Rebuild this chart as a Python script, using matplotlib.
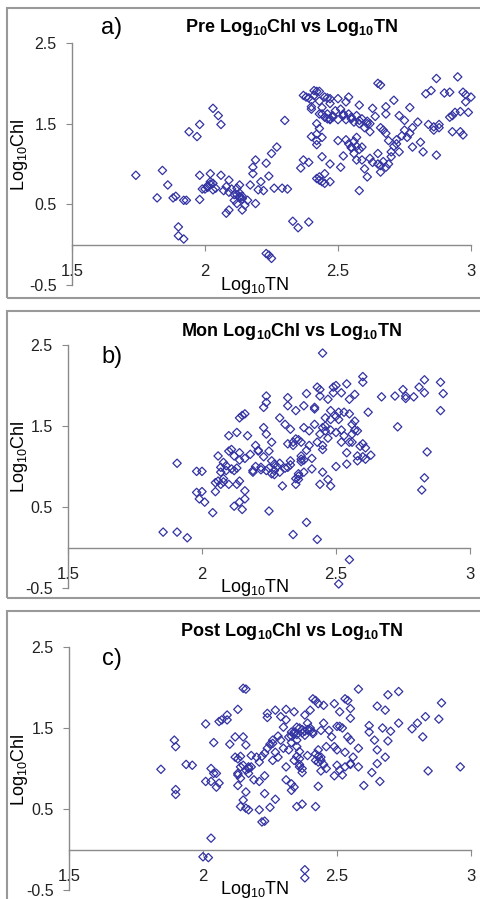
import matplotlib
matplotlib.use("Agg")
import matplotlib.pyplot as plt
from matplotlib.patches import Rectangle

plt.rcParams['font.family'] = ['Liberation Sans', 'DejaVu Sans']
plt.rcParams['mathtext.fontset'] = 'custom'
plt.rcParams['mathtext.rm'] = 'Liberation Sans'
plt.rcParams['mathtext.bf'] = 'Liberation Sans:bold'

# Dados (Log10TN, Log10Chl)
pre_tn = [1.74, 1.82, 1.84, 1.86, 1.88, 1.89, 1.90, 1.90, 1.92, 1.92, 1.93, 1.94, 1.97, 1.98, 1.98,
          1.98, 1.99, 2.00, 2.01, 2.02, 2.02, 2.03, 2.03, 2.03, 2.05, 2.06, 2.06, 2.07, 2.08, 2.09,
          2.09, 2.09, 2.11, 2.12, 2.13, 2.13, 2.13, 2.14, 2.14, 2.16, 2.17, 2.18, 2.18, 2.19, 2.19,
          2.20, 2.21, 2.22, 2.23, 2.23, 2.24, 2.25, 2.24, 2.25, 2.26, 2.27, 2.29, 2.30, 2.31, 2.33,
          2.35, 2.36, 2.37, 2.39, 2.39, 2.37, 2.38, 2.40, 2.40, 2.41, 2.42, 2.42, 2.43, 2.43, 2.44,
          2.45, 2.45, 2.47, 2.40, 2.42, 2.42, 2.43, 2.44, 2.43, 2.45, 2.47, 2.46, 2.47, 2.48, 2.47,
          2.50, 2.50, 2.51, 2.52, 2.53, 2.54, 2.55, 2.55, 2.56, 2.57, 2.57, 2.58, 2.58, 2.58, 2.59,
          2.60, 2.61, 2.61, 2.62, 2.63, 2.64, 2.65, 2.66, 2.65, 2.65, 2.66, 2.67, 2.68, 2.68, 2.69,
          2.69, 2.70, 2.71, 2.72, 2.73, 2.73, 2.75, 2.75, 2.77, 2.77, 2.78, 2.80, 2.81, 2.82, 2.83,
          2.84, 2.85, 2.86, 2.87, 2.87, 2.88, 2.92, 2.92, 2.93, 2.94, 2.95, 2.96, 2.97, 2.97, 2.98,
          2.99, 3.00,
          2.44, 2.45, 2.46, 2.47, 2.48, 2.49, 2.50, 2.51, 2.52, 2.53, 2.54, 2.55, 2.56, 2.57, 2.58,
          2.59, 2.60, 2.61, 2.62, 2.54, 2.55, 2.56, 2.57, 2.58, 2.53, 2.52, 2.59, 2.62, 2.63, 2.66,
          2.67, 2.68, 2.70, 2.71, 2.72, 2.74, 2.76, 2.78, 2.66, 2.68, 2.44, 2.43, 2.41, 2.39, 2.46,
          2.47, 2.43, 2.40, 2.42, 2.44, 2.42, 2.88, 2.86, 2.90, 2.93, 2.96, 2.98,
          2.01, 2.02, 2.04, 2.08, 2.10, 2.12, 2.13, 2.14, 2.12, 2.11, 2.15]
pre_chl = [0.86, 0.58, 0.92, 0.74, 0.58, 0.60, 0.22, 0.11, 0.07, 0.55, 0.55, 1.40, 1.34, 1.49, 0.86,
           0.56, 0.69, 0.69, 0.71, 0.88, 0.78, 1.69, 0.76, 0.68, 1.60, 1.49, 0.86, 0.67, 0.39, 0.43,
           0.80, 0.65, 0.55, 0.51, 0.74, 0.64, 0.58, 0.57, 0.43, 0.55, 0.74, 0.96, 0.88, 0.51, 1.05,
           0.68, 0.78, 0.67, 1.01, -0.11, -0.13, -0.17, 0.85, 1.13, 0.70, 1.21, 0.70, 1.54, 0.69, 0.29,
           0.21, 0.95, 1.05, 1.02, 0.28, 1.85, 1.83, 1.79, 1.71, 1.91, 1.90, 0.82, 0.80, 0.84, 0.78,
           0.88, 0.76, 0.78, 1.34, 1.29, 1.24, 1.44, 1.09, 1.62, 1.83, 1.81, 1.56, 1.56, 1.60, 1.00,
           1.29, 1.81, 0.96, 1.62, 1.77, 1.83, 1.56, 1.21, 1.13, 1.33, 1.05, 1.54, 0.67, 1.73, 1.21,
           0.94, 0.84, 1.50, 1.40, 1.69, 1.59, 2.00, 1.98, 1.13, 1.00, 0.90, 1.42, 1.71, 1.62, 1.29,
           1.00, 1.09, 1.79, 1.25, 1.60, 1.15, 1.42, 1.54, 1.70, 1.38, 1.21, 1.52, 1.27, 1.15, 1.87,
           1.49, 1.91, 1.46, 1.11, 2.06, 1.49, 1.89, 1.58, 1.40, 1.64, 2.08, 1.40, 1.36, 1.89, 1.77,
           1.64, 1.83,
           1.62, 1.58, 1.62, 1.55, 1.58, 1.66, 1.55, 1.68, 1.60, 1.55, 1.62, 1.58, 1.52, 1.60, 1.50,
           1.56, 1.45, 1.53, 1.50, 1.25, 1.20, 1.28, 1.22, 1.18, 1.30, 1.10, 1.05, 1.07, 1.02, 0.98,
           1.03, 0.96, 1.15, 1.22, 1.30, 1.35, 1.33, 1.45, 1.45, 1.38, 1.70, 1.78, 1.85, 1.82, 1.82,
           1.75, 1.90, 1.68, 1.50, 1.33, 1.37, 1.45, 1.42, 1.88, 1.60, 1.65, 1.86,
           0.73, 0.75, 0.70, 0.72, 0.69, 0.62, 0.60, 0.60, 0.70, 0.62, 0.49]

mon_tn = [1.855, 1.907, 1.907, 1.945, 1.98, 2.00, 2.00, 1.98, 1.99, 2.01, 2.04, 2.05, 2.06, 2.06, 2.07,
          2.07, 2.08, 2.08, 2.09, 2.10, 2.10, 2.10, 2.11, 2.12, 2.12, 2.12, 2.13, 2.13, 2.14, 2.14,
          2.14, 2.14, 2.15, 2.15, 2.16, 2.16, 2.16, 2.17, 2.18, 2.19, 2.20, 2.21, 2.22, 2.23, 2.23,
          2.24, 2.24, 2.24, 2.25, 2.25, 2.26, 2.26, 2.26, 2.27, 2.27, 2.29, 2.29, 2.30, 2.31, 2.32,
          2.32, 2.32, 2.33, 2.33, 2.34, 2.34, 2.35, 2.35, 2.35, 2.36, 2.36, 2.37, 2.37, 2.37, 2.38,
          2.38, 2.38, 2.39, 2.39, 2.40, 2.40, 2.41, 2.42, 2.42, 2.42, 2.43, 2.43, 2.44, 2.44, 2.44,
          2.44, 2.45, 2.45, 2.45, 2.45, 2.46, 2.46, 2.47, 2.47, 2.48, 2.48, 2.48, 2.49, 2.49, 2.50,
          2.50, 2.50, 2.51, 2.51, 2.52, 2.52, 2.53, 2.54, 2.54, 2.54, 2.55, 2.55, 2.55, 2.56, 2.56,
          2.57, 2.57, 2.58, 2.58, 2.58, 2.60, 2.60, 2.60, 2.61, 2.61, 2.62, 2.63, 2.67, 2.72, 2.73,
          2.75, 2.76, 2.76, 2.79, 2.81, 2.82, 2.83, 2.83, 2.83, 2.84, 2.89, 2.89, 2.90,
          2.32, 2.34, 2.36, 2.37, 2.38, 2.36, 2.35, 2.33, 2.31, 2.29, 2.28, 2.27, 2.25, 2.24, 2.22,
          2.20, 2.19, 2.23, 2.21, 2.46, 2.48, 2.50, 2.51, 2.52, 2.53, 2.55, 2.56, 2.57, 2.59, 2.60,
          2.47, 2.45, 2.43, 2.41, 2.39, 2.09, 2.11, 2.13, 2.08, 2.07, 2.05, 2.14, 2.16]
mon_chl = [0.19, 0.19, 1.04, 0.12, 0.94, 0.69, 0.94, 0.68, 0.60, 0.56, 0.43, 0.69, 1.13, 0.82, 0.93,
           0.99, 1.05, 0.81, 1.01, 0.78, 1.38, 1.19, 1.21, 0.51, 1.13, 0.95, 0.78, 1.42, 0.82, 1.60,
           0.56, 1.17, 0.47, 1.63, 1.65, 0.70, 0.60, 1.38, 1.15, 0.95, 1.26, 1.19, 0.99, 1.73, 1.48,
           1.87, 1.79, 1.40, 1.19, 0.45, 0.91, 1.30, 1.07, 0.95, 1.03, 0.93, 1.60, 0.76, 1.52, 0.99,
           1.75, 1.85, 1.46, 1.07, 0.16, 1.26, 1.69, 0.78, 1.34, 0.91, 0.84, 1.09, 1.30, 1.13, 1.48,
           1.75, 0.93, 1.90, 0.31, 1.26, 1.44, 0.97, 1.73, 1.52, 1.71, 0.10, 1.98, 1.95, 1.87, 0.78,
           1.40, 1.26, 1.21, 2.40, 0.93, 1.60, 1.44, 0.84, 1.83, 0.76, 1.69, 1.58, 1.98, 1.91, 1.00,
           1.42, 2.00, 1.67, -0.45, 1.30, 1.91, 1.67, 1.17, 2.02, 1.03, 1.65, -0.15, 1.83, 1.30, 1.52,
           1.56, 1.89, 1.07, 1.44, 1.13, 1.28, 2.04, 2.11, 1.23, 1.09, 1.67, 1.14, 1.86, 1.87, 1.49,
           1.95, 1.87, 1.84, 1.86, 1.98, 0.71, 0.86, 1.91, 2.07, 1.18, 2.04, 1.69, 1.90,
           1.28, 1.30, 1.33, 1.06, 1.08, 0.88, 0.85, 1.02, 0.98, 1.04, 1.00, 0.90, 0.98, 0.95, 0.96,
           1.00, 0.93, 1.12, 1.20, 1.50, 1.45, 1.62, 1.58, 1.45, 1.38, 1.30, 1.40, 1.45, 1.25, 1.12,
           1.35, 1.48, 1.30, 1.10, 1.20, 0.95, 0.97, 0.98, 0.85, 0.78, 0.80, 1.08, 1.10]

post_tn = [1.843, 1.893, 1.898, 1.898, 1.898, 1.937, 1.96, 2.01, 2.01, 2.00, 2.02, 2.03, 2.03, 2.03, 2.04,
           2.04, 2.05, 2.05, 2.06, 2.06, 2.07, 2.09, 2.09, 2.10, 2.12, 2.12, 2.13, 2.13, 2.13, 2.13,
           2.14, 2.14, 2.14, 2.15, 2.15, 2.15, 2.16, 2.16, 2.16, 2.16, 2.17, 2.17, 2.17, 2.18, 2.19,
           2.20, 2.21, 2.21, 2.22, 2.23, 2.23, 2.23, 2.23, 2.24, 2.24, 2.25, 2.26, 2.26, 2.26, 2.27,
           2.27, 2.28, 2.29, 2.30, 2.31, 2.31, 2.31, 2.31, 2.32, 2.32, 2.33, 2.33, 2.33, 2.34, 2.34,
           2.34, 2.35, 2.35, 2.35, 2.36, 2.36, 2.36, 2.37, 2.37, 2.37, 2.38, 2.38, 2.38, 2.38, 2.39,
           2.39, 2.40, 2.40, 2.41, 2.41, 2.42, 2.42, 2.42, 2.43, 2.43, 2.43, 2.44, 2.44, 2.44, 2.45,
           2.45, 2.46, 2.46, 2.47, 2.48, 2.49, 2.49, 2.50, 2.50, 2.51, 2.51, 2.51, 2.52, 2.53, 2.53,
           2.54, 2.54, 2.55, 2.55, 2.55, 2.55, 2.56, 2.58, 2.58, 2.58, 2.60, 2.62, 2.62, 2.63, 2.64,
           2.65, 2.65, 2.65, 2.66, 2.67, 2.68, 2.68, 2.69, 2.69, 2.70, 2.73, 2.73, 2.78, 2.80, 2.82,
           2.83, 2.84, 2.88, 2.89, 2.96,
           2.33, 2.34, 2.35, 2.36, 2.37, 2.38, 2.39, 2.40, 2.41, 2.35, 2.33, 2.42, 2.43, 2.44, 2.45,
           2.43, 2.34, 2.35, 2.36, 2.37, 2.17, 2.18, 2.16, 2.15, 2.14, 2.13, 2.21, 2.22, 2.24, 2.25,
           2.27, 2.30, 2.28, 2.29, 2.50, 2.52, 2.53, 2.55, 2.49]
post_chl = [0.99, 1.35, 1.27, 0.74, 0.68, 1.05, 1.04, 0.84, 1.55, -0.09, -0.10, 0.14, 0.84, 1.00, 0.94,
            1.32, 0.94, 0.77, 1.58, 0.82, 1.60, 1.60, 1.66, 1.30, 1.39, 1.14, 1.73, 0.79, 1.12, 0.94,
            1.02, 1.15, 0.53, 1.99, 1.39, 0.61, 1.29, 0.71, 0.51, 1.98, 1.02, 0.49, 0.94, 1.16, 0.86,
            1.14, 0.49, 0.84, 0.34, 1.19, 0.69, 0.35, 0.91, 1.68, 1.63, 0.52, 1.10, 1.31, 1.35, 0.62,
            1.72, 1.14, 1.64, 1.51, 1.02, 0.86, 1.73, 1.60, 1.39, 1.23, 1.45, 0.81, 0.73, 1.70, 0.77,
            1.43, 1.27, 1.51, 0.53, 1.02, 1.12, 1.21, 1.48, 0.56, 0.95, 1.66, -0.25, -0.35, 1.41, 1.56,
            1.16, 1.72, 1.47, 1.86, 1.43, 1.10, 1.84, 0.53, 1.23, 0.78, 1.80, 1.47, 1.14, 0.97, 1.56,
            1.78, 1.27, 1.00, 1.47, 1.39, 1.80, 0.91, 1.23, 1.04, 1.52, 1.70, 0.98, 0.92, 1.86, 1.02,
            1.39, 1.84, 1.74, 1.06, 1.62, 1.35, 1.14, 1.98, 1.02, 1.25, 0.79, 1.53, 1.45, 0.95, 1.35,
            1.77, 1.06, 1.23, 0.84, 1.50, 1.72, 1.14, 1.34, 1.91, 1.46, 1.95, 1.56, 1.49, 1.56, 1.39,
            1.64, 0.97, 1.61, 1.81, 1.02,
            1.40, 1.45, 1.42, 1.50, 1.44, 1.46, 1.48, 1.50, 1.45, 1.35, 1.32, 1.18, 1.15, 1.10, 1.05,
            1.08, 1.10, 1.15, 1.05, 1.00, 1.00, 1.02, 0.98, 1.04, 0.88, 0.92, 1.08, 1.15, 1.25, 1.30,
            1.20, 1.25, 1.40, 1.35, 1.52, 1.50, 1.20, 1.05, 1.27]

titles = ['Pre Log$_\\mathbf{10}$Chl vs Log$_\\mathbf{10}$TN',
          'Mon Log$_\\mathbf{10}$Chl vs Log$_\\mathbf{10}$TN',
          'Post Log$_\\mathbf{10}$Chl vs Log$_\\mathbf{10}$TN']
letters = ['a)', 'b)', 'c)']
xticks = [1.5, 2, 2.5, 3]
yticks = [-0.5, 0.5, 1.5, 2.5]

W, H = 480, 899
fig = plt.figure(figsize=(W / 100, H / 100), dpi=100)


def fx(px):
    return px / W


def fy(py):
    return 1 - py / H


# (x do eixo y, x de 3.0, y de -0.5, y de 2.5, topo e base da moldura, centro do rótulo y)
layout = [(72, 471, 285, 43, 8, 298, 155),
          (68, 470, 588, 345, 311, 598, 457),
          (69, 471, 890, 647, 611, 910, 770)]
data = [(pre_tn, pre_chl), (mon_tn, mon_chl), (post_tn, post_chl)]
grey = '#8a8a8a'
blue = '#3333a3'

for i, (x0, x1, yb, yt, ftop, fbot, ylab) in enumerate(layout):
    # moldura do painel
    fig.add_artist(Rectangle((fx(7), fy(fbot)), fx(480), fy(ftop) - fy(fbot),
                             transform=fig.transFigure, fill=False, ec='#999999', lw=1.5))
    ax = fig.add_axes([fx(x0), fy(yb), fx(x1 - x0), fy(yt) - fy(yb)])
    tn, chl = data[i]
    ax.scatter(tn, chl, marker='D', s=18, facecolors='none', edgecolors=blue,
               linewidths=0.9, clip_on=False, zorder=3)
    ax.set_xlim(1.5, 3)
    ax.set_ylim(-0.5, 2.5)
    ax.patch.set_visible(False)
    for s in ['top', 'right']:
        ax.spines[s].set_visible(False)
    ax.spines['bottom'].set_position(('data', 0))
    for s in ['left', 'bottom']:
        ax.spines[s].set_color(grey)
        ax.spines[s].set_linewidth(1)
    ax.set_xticks(xticks)
    ax.set_xticklabels(['1.5', '2', '2.5', '3'])
    ax.set_yticks(yticks)
    ax.set_yticklabels(['-0.5', '0.5', '1.5', '2.5'])
    ax.tick_params(axis='x', direction='out', length=4, color=grey, pad=10,
                   labelsize=12, labelcolor='#222222')
    ax.tick_params(axis='y', direction='out', length=4, color=grey, pad=7,
                   labelsize=11.5, labelcolor='#222222')

    # textos
    fig.text(fx(292), fy(ftop + 20), titles[i], ha='center', va='center',
             fontsize=13, fontweight='bold')
    fig.text(fx(112), fy(yt - 15 if i == 0 else yt + 12), letters[i], ha='center',
             va='center', fontsize=17)
    fig.text(fx(19), fy(ylab), 'Log$_{10}$Chl', rotation=90,
             ha='center', va='center', fontsize=13)
    fig.text(fx(255), fy(yb), 'Log$_{10}$TN', ha='center', va='center', fontsize=13)

fig.savefig('out.png', dpi=100)
